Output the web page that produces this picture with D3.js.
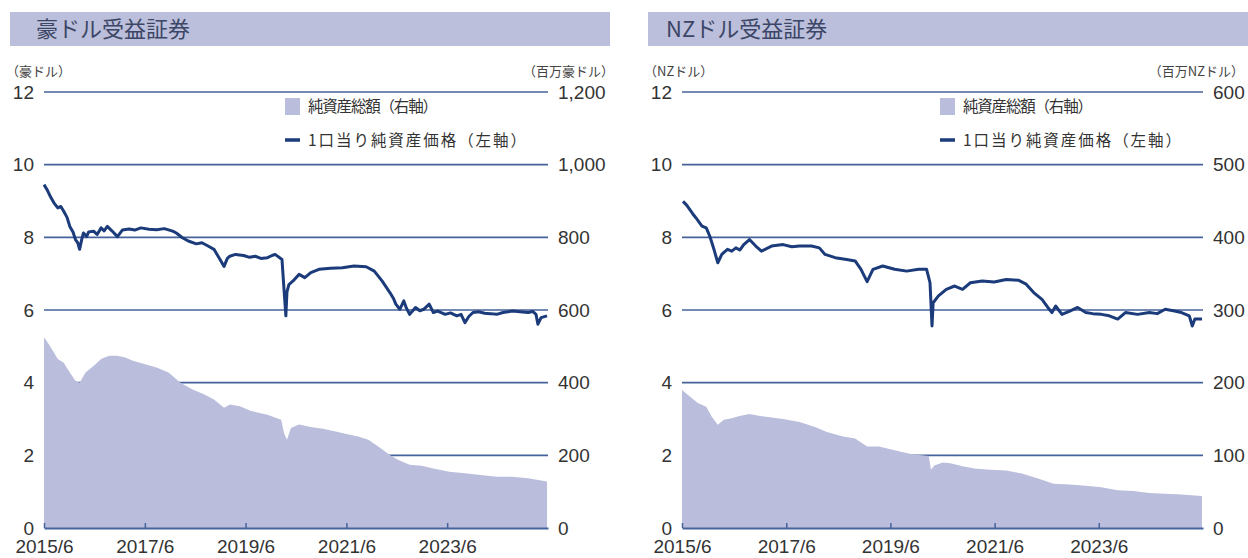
<!DOCTYPE html>
<html>
<head>
<meta charset="utf-8">
<script src="https://cdn.jsdelivr.net/npm/d3@7"></script>
<style>
  body { margin: 0; background: #fff; }
  svg { display: block; }
</style>
</head>
<body>
<div class="chart"></div>
<script>
// x axis
const xTickDates = ['2015-06-01', '2017-06-01', '2019-06-01', '2021-06-01', '2023-06-01'];
const xTickLabels = ['2015/6', '2017/6', '2019/6', '2021/6', '2023/6'];
const navTicks = [0, 2, 4, 6, 8, 10, 12];
const audAssetTicks = [0, 200, 400, 600, 800, 1000, 1200];
const nzdAssetTicks = [0, 100, 200, 300, 400, 500, 600];

const legendLabels = ['純資産総額（右軸）', '1口当り純資産価格（左軸）'];
const legendWidths = [130, 218];

// 豪ドル: 1口当り純資産価格 (豪ドル)
const audNavDates = ['2015-06-01', '2015-06-25', '2015-07-20', '2015-08-12', '2015-09-09', '2015-10-01', '2015-10-22', '2015-11-15',
  '2015-12-05', '2015-12-28', '2016-01-15', '2016-02-01', '2016-02-14', '2016-03-01', '2016-03-13', '2016-04-05', '2016-04-20',
  '2016-05-25', '2016-06-20', '2016-07-19', '2016-08-10', '2016-09-02', '2016-10-05', '2016-11-14', '2016-12-20', '2017-02-07',
  '2017-03-20', '2017-05-03', '2017-07-01', '2017-08-25', '2017-10-20', '2017-12-20', '2018-01-15', '2018-02-28', '2018-04-12',
  '2018-06-09', '2018-07-20', '2018-09-02', '2018-10-15', '2018-11-28', '2018-12-27', '2019-01-20', '2019-02-07', '2019-03-20',
  '2019-05-18', '2019-06-30', '2019-08-10', '2019-09-20', '2019-11-07', '2019-12-10', '2020-01-01', '2020-02-20', '2020-03-05',
  '2020-03-19', '2020-03-27', '2020-04-10', '2020-05-10', '2020-06-23', '2020-08-03', '2020-09-16', '2020-11-14', '2021-02-07',
  '2021-05-03', '2021-07-26', '2021-10-22', '2021-12-20', '2022-02-14', '2022-04-12', '2022-05-10', '2022-05-25', '2022-06-23',
  '2022-07-22', '2022-08-10', '2022-09-02', '2022-10-15', '2022-11-15', '2022-12-13', '2023-01-22', '2023-02-21', '2023-03-25',
  '2023-05-18', '2023-06-25', '2023-08-10', '2023-09-10', '2023-10-08', '2023-11-05', '2023-12-05', '2024-01-15', '2024-02-28',
  '2024-04-10', '2024-05-25', '2024-07-10', '2024-09-16', '2024-11-10', '2025-01-08', '2025-02-10', '2025-03-06', '2025-03-20',
  '2025-04-12', '2025-05-25'];
const audNav = [9.45, 9.3, 9.1, 8.95, 8.81, 8.85, 8.72, 8.55,
  8.3, 8.15, 7.94, 7.85, 7.67, 7.95, 8.12, 8.02, 8.15,
  8.17, 8.08, 8.26, 8.18, 8.3, 8.18, 8.02, 8.2, 8.23,
  8.2, 8.26, 8.22, 8.21, 8.24, 8.17, 8.12, 7.99, 7.9,
  7.82, 7.85, 7.76, 7.67, 7.39, 7.2, 7.42, 7.48, 7.53,
  7.5, 7.45, 7.48, 7.42, 7.44, 7.5, 7.53, 7.39, 6.6,
  5.84, 6.5, 6.7, 6.8, 6.98, 6.89, 7.03, 7.12, 7.15,
  7.16, 7.21, 7.19, 7.07, 6.8, 6.48, 6.3, 6.16, 6.02,
  6.25, 6.05, 5.88, 6.07, 5.98, 6.02, 6.16, 5.93, 5.97,
  5.88, 5.92, 5.84, 5.88, 5.65, 5.82, 5.93, 5.95, 5.91,
  5.9, 5.88, 5.93, 5.97, 5.95, 5.93, 5.96, 5.88, 5.61,
  5.79, 5.84];

// 豪ドル: 純資産総額 (百万豪ドル)
const audAssetDates = ['2015-06-01', '2015-07-12', '2015-09-09', '2015-10-22', '2015-12-05', '2016-01-15', '2016-02-14', '2016-03-28',
  '2016-05-25', '2016-07-19', '2016-09-15', '2016-11-14', '2017-01-10', '2017-03-06', '2017-06-03', '2017-08-25', '2017-11-20',
  '2018-02-14', '2018-05-10', '2018-08-03', '2018-10-15', '2018-12-27', '2019-02-07', '2019-04-20', '2019-07-12', '2019-11-07',
  '2020-02-14', '2020-03-06', '2020-03-27', '2020-04-25', '2020-06-23', '2020-09-16', '2020-12-13', '2021-03-06', '2021-06-01',
  '2021-08-25', '2021-11-07', '2022-01-15', '2022-04-12', '2022-06-09', '2022-09-02', '2022-11-28', '2023-02-21', '2023-06-16',
  '2023-10-08', '2024-01-30', '2024-05-25', '2024-09-16', '2025-01-08', '2025-05-25'];
const audAssets = [525, 502, 465, 455, 428, 405, 400, 428,
  446, 465, 474, 474, 469, 460, 451, 442, 428,
  400, 382, 368, 354, 331, 340, 335, 322, 312,
  298, 261, 243, 275, 285, 278, 273, 266, 259,
  252, 243, 225, 201, 188, 174, 171, 164, 155,
  151, 146, 141, 141, 137, 128];

// NZドル: 1口当り純資産価格 (NZドル)
const nzdNavDates = ['2015-06-08', '2015-07-05', '2015-07-26', '2015-08-15', '2015-09-06', '2015-10-19', '2015-11-18', '2015-12-13',
  '2016-01-11', '2016-02-07', '2016-03-06', '2016-03-25', '2016-04-15', '2016-05-15', '2016-06-13', '2016-07-10', '2016-08-07',
  '2016-09-16', '2016-10-30', '2016-12-09', '2017-02-18', '2017-05-10', '2017-07-10', '2017-09-02', '2017-11-25', '2018-01-19',
  '2018-02-28', '2018-05-10', '2018-07-29', '2018-09-27', '2018-11-07', '2018-12-20', '2019-01-30', '2019-04-08', '2019-07-01',
  '2019-09-23', '2019-12-16', '2020-02-10', '2020-03-05', '2020-03-19', '2020-03-27', '2020-05-03', '2020-06-27', '2020-08-25',
  '2020-10-19', '2020-12-13', '2021-03-06', '2021-05-29', '2021-08-21', '2021-11-14', '2022-01-08', '2022-03-02', '2022-04-29',
  '2022-06-09', '2022-07-08', '2022-08-03', '2022-09-16', '2022-11-10', '2023-01-04', '2023-03-02', '2023-04-20', '2023-06-20',
  '2023-08-14', '2023-10-12', '2023-12-05', '2024-02-28', '2024-05-21', '2024-07-15', '2024-09-09', '2024-11-05', '2025-01-01',
  '2025-02-25', '2025-03-18', '2025-04-05', '2025-05-25'];
const nzdNav = [8.99, 8.88, 8.76, 8.65, 8.54, 8.31, 8.26, 8.03,
  7.67, 7.3, 7.53, 7.6, 7.67, 7.62, 7.71, 7.65, 7.8,
  7.94, 7.76, 7.62, 7.76, 7.8, 7.74, 7.76, 7.76, 7.71,
  7.53, 7.44, 7.39, 7.35, 7.12, 6.78, 7.12, 7.21, 7.12,
  7.07, 7.12, 7.12, 6.75, 5.56, 6.2, 6.39, 6.57, 6.66,
  6.57, 6.75, 6.8, 6.77, 6.84, 6.82, 6.71, 6.48, 6.29,
  6.07, 5.93, 6.11, 5.88, 5.97, 6.07, 5.93, 5.9, 5.88,
  5.84, 5.75, 5.93, 5.88, 5.93, 5.9, 6.02, 5.98, 5.93,
  5.84, 5.56, 5.75, 5.75];

// NZドル: 純資産総額 (百万NZドル)
const nzdAssetDates = ['2015-06-01', '2015-07-26', '2015-09-20', '2015-11-18', '2015-12-27', '2016-02-07', '2016-03-20', '2016-05-14',
  '2016-07-08', '2016-09-16', '2016-11-28', '2017-02-18', '2017-05-10', '2017-09-02', '2017-12-20', '2018-03-13', '2018-07-04',
  '2018-09-27', '2018-12-20', '2019-03-13', '2019-07-01', '2019-10-22', '2020-02-25', '2020-03-12', '2020-04-04', '2020-06-02',
  '2020-07-26', '2020-10-19', '2021-01-12', '2021-04-29', '2021-08-21', '2021-12-09', '2022-04-01', '2022-07-19', '2022-11-10',
  '2023-03-02', '2023-06-20', '2023-10-12', '2024-01-30', '2024-05-21', '2024-09-09', '2025-01-01', '2025-05-25'];
const nzdAssets = [190, 181, 172, 167, 153, 142, 149, 151,
  154, 157, 154, 152, 150, 146, 139, 132, 126,
  123, 112, 112, 107, 102, 99, 80, 86, 90,
  89, 85, 82, 80, 79, 75, 68, 61, 60,
  58, 56, 52, 51, 48, 47, 46, 44];

const parseDate = d3.timeParse('%Y-%m-%d');
const areaColor = '#babedc';
const lineColor = '#1b3b7b';
const gridColor = '#46629a';
const numFont = '"Liberation Sans", Arial, sans-serif';
const jpFont = '"Noto Sans CJK JP", sans-serif';

const svg = d3.select('.chart')
  .append('svg')
  .attr('width', 1248)
  .attr('height', 558);

function drawPanel(p) {
  const g = svg.append('g');

  // title bar
  g.append('rect')
    .attr('x', p.barX).attr('y', 12)
    .attr('width', p.barW).attr('height', 34)
    .style('fill', '#bbbfdb');
  g.append('text')
    .attr('x', p.barX + p.titlePad).attr('y', 37)
    .style('font-family', jpFont)
    .style('font-size', '22px')
    .style('fill', '#3c4666')
    .text(p.title);

  const x = d3.scaleTime()
    .domain([parseDate('2015-06-01'), parseDate('2025-06-01')])
    .range([p.x0, p.x1]);
  const yL = d3.scaleLinear().domain([0, 12]).range([528, 92]);
  const yR = d3.scaleLinear().domain([0, d3.max(p.assetTicks)]).range([528, 92]);

  // unit labels
  g.append('text')
    .attr('x', p.barX - 4).attr('y', 76)
    .style('font-family', jpFont).style('font-size', '13px').style('fill', '#444')
    .text(p.leftUnit);
  g.append('text')
    .attr('x', p.barX + p.barW + p.unitRightPad).attr('y', 76)
    .attr('text-anchor', 'end')
    .style('font-family', jpFont).style('font-size', '13px').style('fill', '#444')
    .text(p.rightUnit);

  // gridlines
  g.selectAll('.grid')
    .data(navTicks.filter(v => v > 0))
    .enter()
    .append('line')
    .attr('x1', p.x0).attr('x2', p.x1)
    .attr('y1', d => yL(d)).attr('y2', d => yL(d))
    .style('stroke', gridColor)
    .style('stroke-width', 1.6);

  // net assets area (right axis)
  const assets = p.assetDates.map((d, i) => ({ date: parseDate(d), value: p.assets[i] }));
  g.append('path')
    .datum(assets)
    .attr('d', d3.area()
      .x(d => x(d.date))
      .y0(yL(0))
      .y1(d => yR(d.value)))
    .style('fill', areaColor);

  // NAV per unit line (left axis)
  const nav = p.navDates.map((d, i) => ({ date: parseDate(d), value: p.nav[i] }));
  g.append('path')
    .datum(nav)
    .attr('d', d3.line()
      .x(d => x(d.date))
      .y(d => yL(d.value)))
    .style('fill', 'none')
    .style('stroke', lineColor)
    .style('stroke-width', 3)
    .style('stroke-linejoin', 'round');

  // axes
  const leftAxis = g.append('g')
    .attr('transform', `translate(${p.x0},0)`)
    .call(d3.axisLeft(yL).tickValues(navTicks).tickSize(0).tickPadding(10));
  const rightAxis = g.append('g')
    .attr('transform', `translate(${p.x1},0)`)
    .call(d3.axisRight(yR).tickValues(p.assetTicks).tickSize(0).tickPadding(10)
      .tickFormat(d3.format(',')));
  const bottomAxis = g.append('g')
    .attr('transform', `translate(0,${yL(0)})`)
    .call(d3.axisBottom(x)
      .tickValues(xTickDates.map(parseDate))
      .tickFormat((d, i) => xTickLabels[i])
      .tickSize(-5).tickSizeOuter(0).tickPadding(12));

  [leftAxis, rightAxis].forEach(a => a.select('.domain').remove());
  [leftAxis, rightAxis, bottomAxis].forEach(a => a.selectAll('text')
    .style('font-family', numFont)
    .style('font-size', '19px')
    .style('fill', '#333'));
  bottomAxis.select('.domain').style('stroke', gridColor).style('stroke-width', 2);
  bottomAxis.selectAll('.tick line').style('stroke', gridColor).style('stroke-width', 1.5);

  // legend
  const lx = p.x1 - 263;
  g.append('rect')
    .attr('x', lx).attr('y', 98)
    .attr('width', 15).attr('height', 17)
    .style('fill', areaColor);
  g.append('line')
    .attr('x1', lx).attr('x2', lx + 15)
    .attr('y1', 140).attr('y2', 140)
    .style('stroke', lineColor).style('stroke-width', 3.5);
  g.selectAll('.legend-text')
    .data(legendLabels)
    .enter()
    .append('text')
    .attr('x', lx + 23)
    .attr('y', (d, i) => 112 + i * 34)
    .attr('textLength', (d, i) => legendWidths[i])
    .attr('lengthAdjust', 'spacing')
    .style('font-family', jpFont)
    .style('font-size', '15.5px')
    .style('fill', '#333')
    .text(d => d);
}

drawPanel({
  title: '豪ドル受益証券', barX: 10, barW: 600, titlePad: 26,
  leftUnit: '（豪ドル）', rightUnit: '（百万豪ドル）', unitRightPad: 4,
  x0: 44, x1: 548,
  navDates: audNavDates, nav: audNav,
  assetDates: audAssetDates, assets: audAssets,
  assetTicks: audAssetTicks
});

drawPanel({
  title: 'NZドル受益証券', barX: 648, barW: 600, titlePad: 18,
  leftUnit: '（NZドル）', rightUnit: '（百万NZドル）', unitRightPad: -4,
  x0: 682, x1: 1203,
  navDates: nzdNavDates, nav: nzdNav,
  assetDates: nzdAssetDates, assets: nzdAssets,
  assetTicks: nzdAssetTicks
});
</script>
</body>
</html>
